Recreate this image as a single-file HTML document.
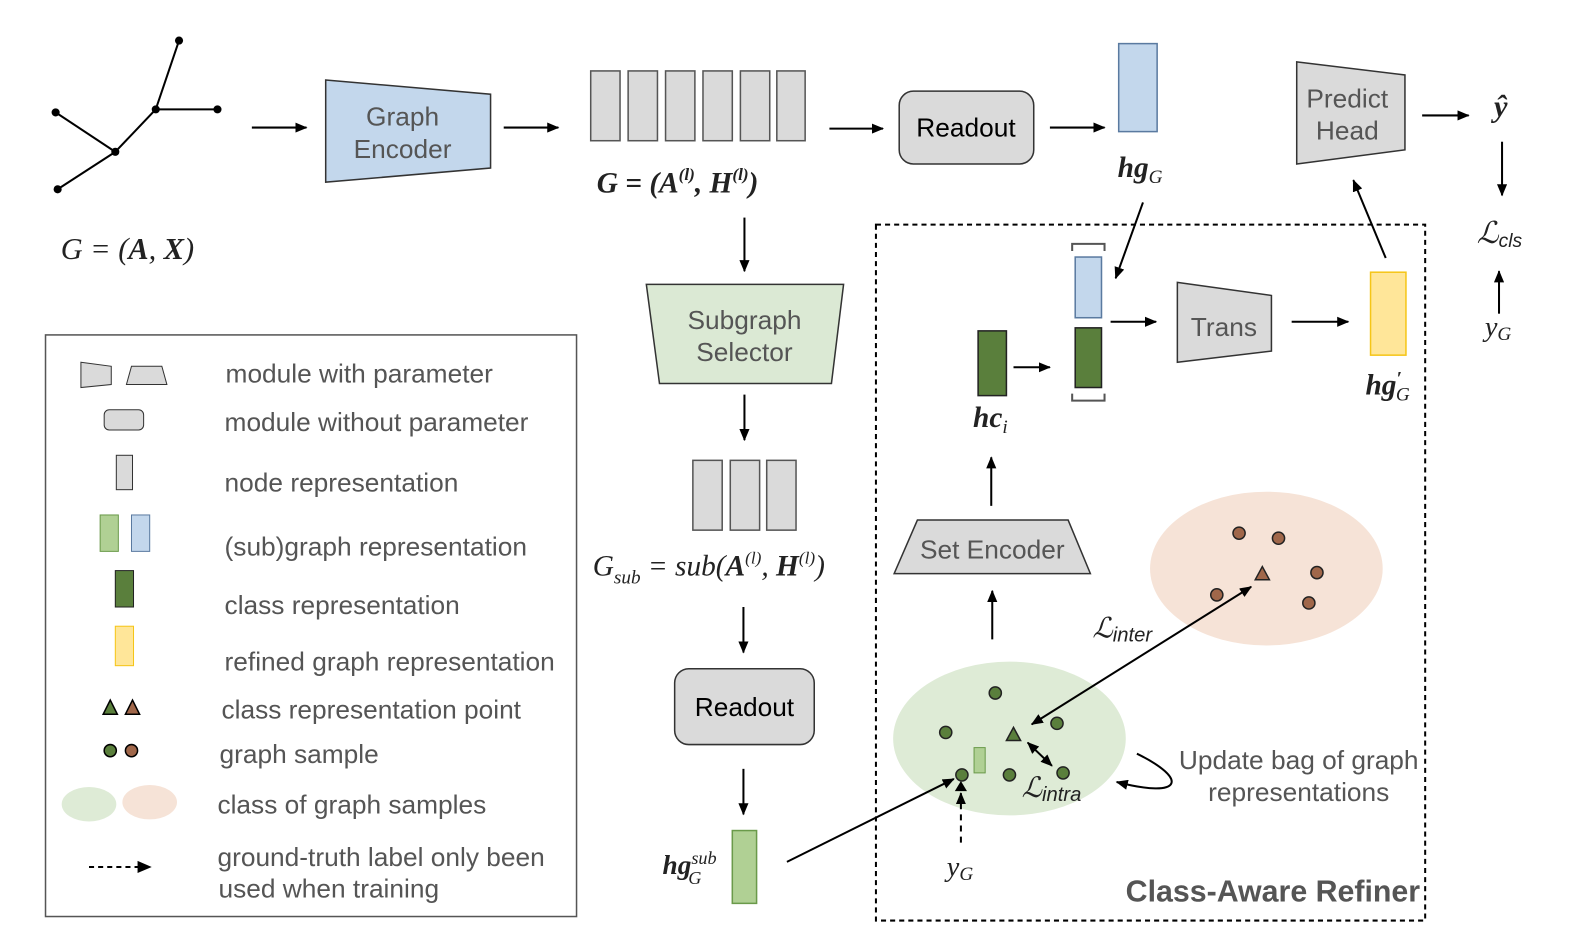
<!DOCTYPE html>
<html><head><meta charset="utf-8"><style>
html,body{margin:0;padding:0;background:#fff;overflow:hidden}
svg{display:block}
.t{font-family:"Liberation Sans",sans-serif;fill:#555}
.m{font-family:"Liberation Serif",serif;font-style:italic;fill:#222}
</style></head><body>
<svg width="1586" height="948" viewBox="0 0 1568 937" xmlns="http://www.w3.org/2000/svg">
<defs>
<marker id="a" markerWidth="12" markerHeight="10" refX="11" refY="5" orient="auto" markerUnits="userSpaceOnUse"><path d="M0,0 L12,5 L0,10 z" fill="#000"/></marker>
<marker id="b" markerWidth="12" markerHeight="10" refX="1" refY="5" orient="auto" markerUnits="userSpaceOnUse"><path d="M12,0 L0,5 L12,10 z" fill="#000"/></marker>
</defs>
<ellipse cx="1252" cy="562" rx="115" ry="76" fill="#f6e3d7"/>
<ellipse cx="998" cy="730" rx="115" ry="76" fill="#deebd6"/>
<g stroke="#000" stroke-width="2" fill="none">
<line x1="177" y1="40" x2="154" y2="108"/><line x1="154" y1="108" x2="215" y2="108"/><line x1="154" y1="108" x2="114" y2="150"/><line x1="55" y1="111" x2="114" y2="150"/><line x1="114" y1="150" x2="57" y2="187"/>
</g>
<g fill="#000"><circle cx="177" cy="40" r="4"/><circle cx="154" cy="108" r="4"/><circle cx="215" cy="108" r="4"/><circle cx="55" cy="111" r="4"/><circle cx="114" cy="150" r="4"/><circle cx="57" cy="187" r="4"/></g>
<text class="m" x="60" y="256" font-size="30" font-style="normal">G  =  (<tspan font-weight="bold" font-style="italic">A</tspan>, <tspan font-weight="bold" font-style="italic">X</tspan>)</text>

<g stroke="#000" stroke-width="2" marker-end="url(#a)">
<line x1="249" y1="126" x2="303" y2="126"/><line x1="498" y1="126" x2="552" y2="126"/>
<line x1="820" y1="127" x2="873" y2="127"/><line x1="1038" y1="126" x2="1092" y2="126"/>
<line x1="1406" y1="114" x2="1452" y2="114"/><line x1="1485" y1="140" x2="1485" y2="193"/>
<line x1="1482" y1="310" x2="1482" y2="268"/>
<line x1="1130" y1="200" x2="1103" y2="275"/>
<line x1="1098" y1="318" x2="1143" y2="318"/><line x1="1277" y1="318" x2="1333" y2="318"/>
<line x1="1370" y1="255" x2="1338" y2="178"/>
<line x1="1002" y1="363" x2="1038" y2="363"/>
<line x1="980" y1="500" x2="980" y2="452"/><line x1="981" y1="632" x2="981" y2="584"/>
<line x1="736" y1="215" x2="736" y2="268"/><line x1="736" y1="390" x2="736" y2="435"/>
<line x1="735" y1="600" x2="735" y2="645"/><line x1="735" y1="760" x2="735" y2="805"/>
<line x1="778" y1="852" x2="943" y2="770"/>
<line x1="1237" y1="580" x2="1020" y2="716" marker-start="url(#b)"/>
<line x1="1016" y1="734" x2="1040" y2="757" marker-start="url(#b)"/>
<path d="M1124,745 C1175,770 1170,790 1104,773" fill="none"/>
<line x1="950" y1="833" x2="950" y2="784" stroke-dasharray="6,5"/>
</g>

<polygon points="322,79 485,93 485,166 322,180" fill="#c3d7ec" stroke="#333" stroke-width="1.5"/>
<text class="t" x="398" y="124" font-size="26" text-anchor="middle">Graph</text>
<text class="t" x="398" y="156" font-size="26" text-anchor="middle">Encoder</text>

<g fill="#dadada" stroke="#555" stroke-width="1.5">
<rect x="584" y="70" width="29" height="69"/><rect x="621" y="70" width="29" height="69"/><rect x="658" y="70" width="29" height="69"/><rect x="695" y="70" width="29" height="69"/><rect x="732" y="70" width="29" height="69"/><rect x="768" y="70" width="28" height="69"/>
<rect x="685" y="455" width="29" height="69"/><rect x="722" y="455" width="29" height="69"/><rect x="758" y="455" width="29" height="69"/>
</g>
<text class="m" x="590" y="190" font-size="29" font-weight="bold">G = (A<tspan font-size="17" dy="-12">(l)</tspan><tspan dy="12">, H</tspan><tspan font-size="17" dy="-12">(l)</tspan><tspan dy="12">)</tspan></text>

<rect x="889" y="90" width="133" height="72" rx="14" fill="#dadada" stroke="#333" stroke-width="1.5"/>
<text x="955" y="135" font-size="26" text-anchor="middle" font-family="Liberation Sans,sans-serif">Readout</text>
<rect x="1106" y="43" width="38" height="87" fill="#c3d7ec" stroke="#5a7aa0" stroke-width="1.5"/>
<text class="m" x="1105" y="175" font-size="29" font-weight="bold" fill="#444">hg<tspan font-size="19" dy="6" font-weight="normal">G</tspan></text>

<polygon points="1282,61 1389,74 1389,148 1282,162" fill="#dadada" stroke="#333" stroke-width="1.5"/>
<text class="t" x="1332" y="106" font-size="26" text-anchor="middle">Predict</text>
<text class="t" x="1332" y="138" font-size="26" text-anchor="middle">Head</text>
<text class="m" x="1477" y="115" font-size="30" font-weight="bold">ŷ</text>
<text class="m" x="1460" y="240" font-size="30">ℒ<tspan font-size="19" dy="4" font-family="Liberation Sans,sans-serif">cls</tspan></text>
<text class="m" x="1468" y="332" font-size="28">y<tspan font-size="19" dy="4">G</tspan></text>

<rect x="866" y="222" width="543" height="688" fill="none" stroke="#000" stroke-width="2" stroke-dasharray="5,4"/>

<path d="M1060,248 V241 H1092 V248 M1060,389 V396 H1092 V389" fill="none" stroke="#555" stroke-width="2"/>
<rect x="1063" y="254" width="26" height="60" fill="#c3d7ec" stroke="#5a7aa0" stroke-width="1.5"/>
<rect x="1063" y="324" width="26" height="59" fill="#5a7f3c" stroke="#222" stroke-width="1.5"/>
<rect x="967" y="327" width="28" height="64" fill="#5a7f3c" stroke="#222" stroke-width="1.5"/>
<text class="m" x="962" y="422" font-size="29" font-weight="bold" fill="#444">hc<tspan font-size="19" dy="6" font-weight="normal">i</tspan></text>
<polygon points="1164,279 1257,292 1257,347 1164,358" fill="#dadada" stroke="#333" stroke-width="1.5"/>
<text class="t" x="1210" y="332" font-size="26" text-anchor="middle">Trans</text>
<rect x="1355" y="269" width="35" height="82" fill="#ffe699" stroke="#f5c518" stroke-width="1.5"/>
<text class="m" x="1350" y="390" font-size="29" font-weight="bold">hg<tspan font-size="19" dy="-10">′</tspan><tspan font-size="19" dx="-6" dy="16" font-weight="normal">G</tspan></text>

<polygon points="907,514 1056,514 1078,567 884,567" fill="#dadada" stroke="#333" stroke-width="1.5"/>
<text class="t" x="981" y="552" font-size="26" text-anchor="middle">Set Encoder</text>

<g fill="#a0674a" stroke="#222" stroke-width="1.5">
<circle cx="1225" cy="527" r="6"/><circle cx="1264" cy="532" r="6"/><circle cx="1302" cy="566" r="6"/><circle cx="1203" cy="588" r="6"/><circle cx="1294" cy="596" r="6"/>
<polygon points="1248,560 1255,573 1241,573"/></g>
<g fill="#5a7f3c" stroke="#222" stroke-width="1.5">
<circle cx="984" cy="685" r="6"/><circle cx="935" cy="724" r="6"/><circle cx="1045" cy="715" r="6"/><circle cx="951" cy="766" r="6"/><circle cx="998" cy="766" r="6"/><circle cx="1051" cy="764" r="6"/>
<polygon points="1002,719 1009,732 995,732"/></g>
<rect x="963" y="739" width="11" height="25" fill="#b0d094" stroke="#6a9a4a" stroke-width="1"/>
<text class="m" x="1080" y="630" font-size="28">ℒ<tspan font-size="20" dy="4" font-family="Liberation Sans,sans-serif">inter</tspan></text>
<text class="m" x="1010" y="788" font-size="28">ℒ<tspan font-size="20" dy="4" font-family="Liberation Sans,sans-serif">intra</tspan></text>
<text class="t" x="1284" y="760" font-size="26" text-anchor="middle">Update bag of graph</text>
<text class="t" x="1284" y="792" font-size="26" text-anchor="middle">representations</text>
<path d="M944,782 L950,772 L956,782 z" fill="#000"/>
<text class="m" x="936" y="866" font-size="28">y<tspan font-size="19" dy="4">G</tspan></text>
<text class="t" x="1404" y="891" font-size="30" font-weight="bold" text-anchor="end">Class-Aware Refiner</text>

<polygon points="639,281 834,281 822,379 652,379" fill="#dbe9d4" stroke="#333" stroke-width="1.5"/>
<text class="t" x="736" y="325" font-size="26" text-anchor="middle">Subgraph</text>
<text class="t" x="736" y="357" font-size="26" text-anchor="middle">Selector</text>
<text class="m" x="586" y="569" font-size="29" fill="#555">G<tspan font-size="19" dy="8">sub</tspan><tspan dy="-8"> = sub(</tspan><tspan font-weight="bold">A</tspan><tspan font-size="17" dy="-12">(l)</tspan><tspan dy="12">, </tspan><tspan font-weight="bold">H</tspan><tspan font-size="17" dy="-12">(l)</tspan><tspan dy="12">)</tspan></text>
<rect x="667" y="661" width="138" height="75" rx="14" fill="#dadada" stroke="#333" stroke-width="1.5"/>
<text x="736" y="708" font-size="26" text-anchor="middle" font-family="Liberation Sans,sans-serif">Readout</text>
<rect x="724" y="821" width="24" height="72" fill="#b0d094" stroke="#6a9a4a" stroke-width="1.5"/>
<text class="m" x="655" y="864" font-size="27" font-weight="bold">hg<tspan font-size="18" dy="-10" font-weight="normal">sub</tspan><tspan font-size="18" dx="-28" dy="20" font-weight="normal">G</tspan></text>

<rect x="45" y="331" width="525" height="575" fill="none" stroke="#555" stroke-width="1.5"/>
<polygon points="80,358 110,362 110,380 80,383" fill="#dadada" stroke="#333"/>
<polygon points="130,362 160,362 165,380 125,380" fill="#dadada" stroke="#333"/>
<rect x="103" y="405" width="39" height="20" rx="5" fill="#dadada" stroke="#333"/>
<rect x="115" y="450" width="16" height="34" fill="#dadada" stroke="#333"/>
<rect x="99" y="509" width="18" height="36" fill="#b0d094" stroke="#6a9a4a"/>
<rect x="130" y="509" width="18" height="36" fill="#c3d7ec" stroke="#5a7aa0"/>
<rect x="114" y="564" width="18" height="36" fill="#5a7f3c" stroke="#222"/>
<rect x="114" y="619" width="18" height="39" fill="#ffe699" stroke="#f5c518"/>
<polygon points="109,692 116,706 102,706" fill="#5a7f3c" stroke="#000" stroke-width="1.5"/>
<polygon points="131,692 138,706 124,706" fill="#a0674a" stroke="#000" stroke-width="1.5"/>
<circle cx="109" cy="742" r="6" fill="#5a7f3c" stroke="#000" stroke-width="1.5"/>
<circle cx="130" cy="742" r="6" fill="#a0674a" stroke="#000" stroke-width="1.5"/>
<ellipse cx="88" cy="795" rx="27" ry="17" fill="#deebd6"/>
<ellipse cx="148" cy="793" rx="27" ry="17" fill="#f6e3d7"/>
<line x1="88" y1="857" x2="138" y2="857" stroke="#000" stroke-width="2" stroke-dasharray="5,4"/>
<path d="M136,851 L150,857 L136,863 z" fill="#000"/>
<g class="t" font-size="26">
<text x="223" y="378">module with parameter</text>
<text x="222" y="426">module without parameter</text>
<text x="222" y="486">node representation</text>
<text x="222" y="549">(sub)graph representation</text>
<text x="222" y="607">class representation</text>
<text x="222" y="663">refined graph representation</text>
<text x="219" y="710">class representation point</text>
<text x="217" y="754">graph sample</text>
<text x="215" y="804">class of graph samples</text>
<text x="215" y="856">ground-truth label only been</text>
<text x="216" y="887">used when training</text>
</g>
</svg>
</body></html>
